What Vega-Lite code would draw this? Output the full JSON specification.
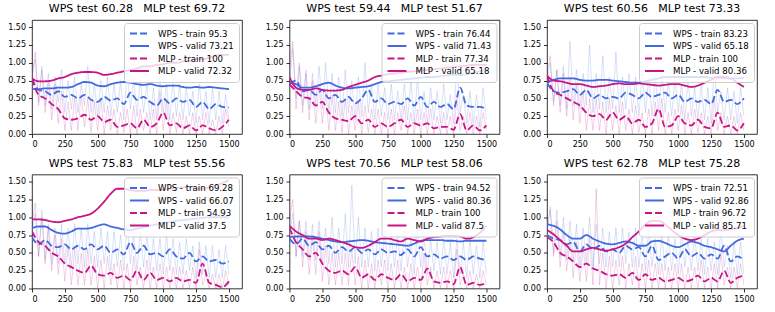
{
"$schema":"https://vega.github.io/schema/vega-lite/v6.json",
"padding":{"left":7,"top":2,"right":5,"bottom":5},
"background":"white",
"config":{
 "font":"DejaVu Sans",
 "view":{"stroke":"black","strokeWidth":0.8},
 "title":{"fontSize":11,"fontWeight":"normal","color":"black","offset":6,"font":"DejaVu Sans"},
 "axis":{"grid":false,"domain":false,"tickColor":"black","tickSize":3.5,"tickWidth":0.8,"labelColor":"black","labelFontSize":8,"labelFont":"DejaVu Sans","labelPadding":3,"labelOverlap":false,"tickCount":20,"title":null},
 "legend":{"orient":"top-right","offset":3,"zindex":1,"fillColor":"rgba(255,255,255,0.8)","strokeColor":"#cccccc","cornerRadius":3,"padding":5,"symbolType":"stroke","symbolSize":360,"symbolStrokeWidth":1.8,"labelFontSize":8.6,"labelFont":"DejaVu Sans","labelColor":"black","labelOffset":8,"rowPadding":1.5,"clipHeight":11,"title":null},
 "concat":{"spacing":{"row":40.5,"column":47.5}}
},
"bounds":"flush",
"columns":3,
"resolve":{"scale":{"color":"independent","strokeDash":"independent"},"legend":{"color":"independent","strokeDash":"independent"}},
"datasets":{"d":[
{"p":1,"x":0,"a":0.78,"b":0.63,"c":0.78,"d":0.78},
{"p":1,"x":50,"a":0.62,"b":0.63,"c":0.55,"d":0.74},
{"p":1,"x":100,"a":0.6,"b":0.64,"c":0.5,"d":0.74},
{"p":1,"x":150,"a":0.55,"b":0.64,"c":0.42,"d":0.75},
{"p":1,"x":200,"a":0.6,"b":0.65,"c":0.35,"d":0.78},
{"p":1,"x":250,"a":0.52,"b":0.65,"c":0.22,"d":0.8},
{"p":1,"x":300,"a":0.55,"b":0.66,"c":0.2,"d":0.84},
{"p":1,"x":350,"a":0.5,"b":0.7,"c":0.22,"d":0.86},
{"p":1,"x":400,"a":0.55,"b":0.73,"c":0.27,"d":0.87},
{"p":1,"x":450,"a":0.48,"b":0.72,"c":0.2,"d":0.87},
{"p":1,"x":500,"a":0.45,"b":0.68,"c":0.25,"d":0.86},
{"p":1,"x":550,"a":0.52,"b":0.67,"c":0.17,"d":0.83},
{"p":1,"x":600,"a":0.47,"b":0.7,"c":0.2,"d":0.84},
{"p":1,"x":650,"a":0.5,"b":0.72,"c":0.1,"d":0.86},
{"p":1,"x":700,"a":0.42,"b":0.73,"c":0.12,"d":0.88},
{"p":1,"x":750,"a":0.58,"b":0.72,"c":0.15,"d":0.9},
{"p":1,"x":800,"a":0.48,"b":0.7,"c":0.08,"d":0.92},
{"p":1,"x":850,"a":0.52,"b":0.69,"c":0.2,"d":0.95},
{"p":1,"x":900,"a":0.45,"b":0.7,"c":0.1,"d":0.95},
{"p":1,"x":950,"a":0.4,"b":0.68,"c":0.15,"d":0.97},
{"p":1,"x":1000,"a":0.5,"b":0.67,"c":0.3,"d":0.98},
{"p":1,"x":1050,"a":0.43,"b":0.68,"c":0.12,"d":1.0},
{"p":1,"x":1100,"a":0.5,"b":0.68,"c":0.15,"d":1.0},
{"p":1,"x":1150,"a":0.45,"b":0.66,"c":0.08,"d":1.02},
{"p":1,"x":1200,"a":0.48,"b":0.65,"c":0.12,"d":1.03},
{"p":1,"x":1250,"a":0.38,"b":0.66,"c":0.05,"d":1.05},
{"p":1,"x":1300,"a":0.45,"b":0.65,"c":0.12,"d":1.05},
{"p":1,"x":1350,"a":0.35,"b":0.66,"c":0.08,"d":1.07},
{"p":1,"x":1400,"a":0.42,"b":0.65,"c":0.05,"d":1.1},
{"p":1,"x":1450,"a":0.38,"b":0.64,"c":0.1,"d":1.11},
{"p":1,"x":1500,"a":0.37,"b":0.63,"c":0.2,"d":1.11},
{"p":2,"x":0,"a":0.7,"b":0.72,"c":0.7,"d":0.8},
{"p":2,"x":50,"a":0.75,"b":0.7,"c":0.6,"d":0.65},
{"p":2,"x":100,"a":0.6,"b":0.65,"c":0.52,"d":0.62},
{"p":2,"x":150,"a":0.62,"b":0.65,"c":0.5,"d":0.62},
{"p":2,"x":200,"a":0.55,"b":0.67,"c":0.4,"d":0.64},
{"p":2,"x":250,"a":0.62,"b":0.7,"c":0.45,"d":0.62},
{"p":2,"x":300,"a":0.5,"b":0.72,"c":0.3,"d":0.61},
{"p":2,"x":350,"a":0.55,"b":0.68,"c":0.22,"d":0.61},
{"p":2,"x":400,"a":0.45,"b":0.65,"c":0.2,"d":0.62},
{"p":2,"x":450,"a":0.52,"b":0.64,"c":0.18,"d":0.66},
{"p":2,"x":500,"a":0.43,"b":0.65,"c":0.25,"d":0.69},
{"p":2,"x":550,"a":0.5,"b":0.66,"c":0.15,"d":0.72},
{"p":2,"x":600,"a":0.62,"b":0.67,"c":0.2,"d":0.75},
{"p":2,"x":650,"a":0.45,"b":0.7,"c":0.1,"d":0.8},
{"p":2,"x":700,"a":0.5,"b":0.73,"c":0.15,"d":0.82},
{"p":2,"x":750,"a":0.42,"b":0.74,"c":0.1,"d":0.84},
{"p":2,"x":800,"a":0.45,"b":0.75,"c":0.15,"d":0.85},
{"p":2,"x":850,"a":0.42,"b":0.76,"c":0.2,"d":0.86},
{"p":2,"x":900,"a":0.5,"b":0.77,"c":0.1,"d":0.87},
{"p":2,"x":950,"a":0.4,"b":0.78,"c":0.15,"d":0.88},
{"p":2,"x":1000,"a":0.52,"b":0.79,"c":0.12,"d":0.89},
{"p":2,"x":1050,"a":0.38,"b":0.8,"c":0.15,"d":0.9},
{"p":2,"x":1100,"a":0.45,"b":0.8,"c":0.08,"d":0.91},
{"p":2,"x":1150,"a":0.38,"b":0.81,"c":0.1,"d":0.92},
{"p":2,"x":1200,"a":0.42,"b":0.82,"c":0.1,"d":0.93},
{"p":2,"x":1250,"a":0.35,"b":0.83,"c":0.06,"d":0.94},
{"p":2,"x":1300,"a":0.65,"b":0.83,"c":0.28,"d":0.95},
{"p":2,"x":1350,"a":0.4,"b":0.84,"c":0.05,"d":0.96},
{"p":2,"x":1400,"a":0.38,"b":0.86,"c":0.12,"d":0.97},
{"p":2,"x":1450,"a":0.38,"b":0.88,"c":0.05,"d":0.97},
{"p":2,"x":1500,"a":0.35,"b":0.91,"c":0.12,"d":0.97},
{"p":3,"x":0,"a":0.72,"b":0.72,"c":0.82,"d":0.82},
{"p":3,"x":50,"a":0.6,"b":0.76,"c":0.6,"d":0.75},
{"p":3,"x":100,"a":0.58,"b":0.78,"c":0.55,"d":0.74},
{"p":3,"x":150,"a":0.6,"b":0.78,"c":0.5,"d":0.72},
{"p":3,"x":200,"a":0.63,"b":0.78,"c":0.45,"d":0.7},
{"p":3,"x":250,"a":0.55,"b":0.76,"c":0.4,"d":0.7},
{"p":3,"x":300,"a":0.62,"b":0.75,"c":0.3,"d":0.68},
{"p":3,"x":350,"a":0.5,"b":0.75,"c":0.25,"d":0.66},
{"p":3,"x":400,"a":0.55,"b":0.76,"c":0.28,"d":0.67},
{"p":3,"x":450,"a":0.5,"b":0.76,"c":0.2,"d":0.68},
{"p":3,"x":500,"a":0.52,"b":0.75,"c":0.3,"d":0.7},
{"p":3,"x":550,"a":0.5,"b":0.74,"c":0.2,"d":0.71},
{"p":3,"x":600,"a":0.58,"b":0.73,"c":0.25,"d":0.7},
{"p":3,"x":650,"a":0.55,"b":0.72,"c":0.15,"d":0.7},
{"p":3,"x":700,"a":0.5,"b":0.72,"c":0.2,"d":0.71},
{"p":3,"x":750,"a":0.58,"b":0.74,"c":0.1,"d":0.7},
{"p":3,"x":800,"a":0.52,"b":0.76,"c":0.15,"d":0.69},
{"p":3,"x":850,"a":0.55,"b":0.78,"c":0.35,"d":0.68},
{"p":3,"x":900,"a":0.58,"b":0.8,"c":0.1,"d":0.69},
{"p":3,"x":950,"a":0.5,"b":0.8,"c":0.12,"d":0.7},
{"p":3,"x":1000,"a":0.55,"b":0.8,"c":0.25,"d":0.7},
{"p":3,"x":1050,"a":0.45,"b":0.8,"c":0.15,"d":0.68},
{"p":3,"x":1100,"a":0.5,"b":0.8,"c":0.12,"d":0.66},
{"p":3,"x":1150,"a":0.45,"b":0.8,"c":0.2,"d":0.68},
{"p":3,"x":1200,"a":0.48,"b":0.8,"c":0.1,"d":0.72},
{"p":3,"x":1250,"a":0.42,"b":0.79,"c":0.08,"d":0.76},
{"p":3,"x":1300,"a":0.62,"b":0.79,"c":0.3,"d":0.8},
{"p":3,"x":1350,"a":0.45,"b":0.78,"c":0.1,"d":0.8},
{"p":3,"x":1400,"a":0.48,"b":0.78,"c":0.12,"d":0.78},
{"p":3,"x":1450,"a":0.42,"b":0.78,"c":0.05,"d":0.72},
{"p":3,"x":1500,"a":0.5,"b":0.79,"c":0.15,"d":0.66},
{"p":4,"x":0,"a":0.72,"b":0.85,"c":0.8,"d":0.97},
{"p":4,"x":50,"a":0.62,"b":0.87,"c":0.65,"d":0.97},
{"p":4,"x":100,"a":0.68,"b":0.87,"c":0.6,"d":0.96},
{"p":4,"x":150,"a":0.6,"b":0.82,"c":0.5,"d":0.94},
{"p":4,"x":200,"a":0.58,"b":0.78,"c":0.45,"d":0.93},
{"p":4,"x":250,"a":0.62,"b":0.77,"c":0.35,"d":0.95},
{"p":4,"x":300,"a":0.55,"b":0.8,"c":0.3,"d":0.97},
{"p":4,"x":350,"a":0.6,"b":0.84,"c":0.25,"d":1.0},
{"p":4,"x":400,"a":0.55,"b":0.84,"c":0.22,"d":1.02},
{"p":4,"x":450,"a":0.62,"b":0.85,"c":0.32,"d":1.05},
{"p":4,"x":500,"a":0.55,"b":0.88,"c":0.2,"d":1.12},
{"p":4,"x":550,"a":0.6,"b":0.9,"c":0.18,"d":1.22},
{"p":4,"x":600,"a":0.5,"b":0.87,"c":0.22,"d":1.33},
{"p":4,"x":650,"a":0.55,"b":0.85,"c":0.15,"d":1.4},
{"p":4,"x":700,"a":0.48,"b":0.83,"c":0.18,"d":1.4},
{"p":4,"x":750,"a":0.65,"b":0.82,"c":0.12,"d":1.38},
{"p":4,"x":800,"a":0.5,"b":0.84,"c":0.25,"d":1.37},
{"p":4,"x":850,"a":0.6,"b":0.86,"c":0.12,"d":1.37},
{"p":4,"x":900,"a":0.48,"b":0.88,"c":0.22,"d":1.38},
{"p":4,"x":950,"a":0.5,"b":0.9,"c":0.12,"d":1.38},
{"p":4,"x":1000,"a":0.45,"b":0.92,"c":0.15,"d":1.39},
{"p":4,"x":1050,"a":0.55,"b":0.93,"c":0.1,"d":1.4},
{"p":4,"x":1100,"a":0.45,"b":0.95,"c":0.15,"d":1.41},
{"p":4,"x":1150,"a":0.42,"b":0.96,"c":0.1,"d":1.42},
{"p":4,"x":1200,"a":0.5,"b":0.97,"c":0.12,"d":1.43},
{"p":4,"x":1250,"a":0.38,"b":0.98,"c":0.08,"d":1.4},
{"p":4,"x":1300,"a":0.45,"b":0.99,"c":0.35,"d":1.4},
{"p":4,"x":1350,"a":0.38,"b":1.0,"c":0.08,"d":1.42},
{"p":4,"x":1400,"a":0.4,"b":1.0,"c":0.05,"d":1.45},
{"p":4,"x":1450,"a":0.35,"b":1.0,"c":0.02,"d":1.48},
{"p":4,"x":1500,"a":0.38,"b":1.0,"c":0.1,"d":1.52},
{"p":5,"x":0,"a":0.7,"b":0.72,"c":0.85,"d":0.88},
{"p":5,"x":50,"a":0.62,"b":0.73,"c":0.65,"d":0.8},
{"p":5,"x":100,"a":0.7,"b":0.73,"c":0.55,"d":0.75},
{"p":5,"x":150,"a":0.6,"b":0.73,"c":0.45,"d":0.7},
{"p":5,"x":200,"a":0.65,"b":0.72,"c":0.5,"d":0.7},
{"p":5,"x":250,"a":0.55,"b":0.7,"c":0.35,"d":0.68},
{"p":5,"x":300,"a":0.6,"b":0.68,"c":0.25,"d":0.7},
{"p":5,"x":350,"a":0.5,"b":0.66,"c":0.22,"d":0.68},
{"p":5,"x":400,"a":0.58,"b":0.65,"c":0.25,"d":0.65},
{"p":5,"x":450,"a":0.52,"b":0.66,"c":0.2,"d":0.62},
{"p":5,"x":500,"a":0.58,"b":0.67,"c":0.3,"d":0.58},
{"p":5,"x":550,"a":0.5,"b":0.68,"c":0.15,"d":0.57},
{"p":5,"x":600,"a":0.55,"b":0.67,"c":0.2,"d":0.6},
{"p":5,"x":650,"a":0.48,"b":0.65,"c":0.12,"d":0.65},
{"p":5,"x":700,"a":0.55,"b":0.64,"c":0.2,"d":0.7},
{"p":5,"x":750,"a":0.5,"b":0.63,"c":0.15,"d":0.7},
{"p":5,"x":800,"a":0.52,"b":0.62,"c":0.12,"d":0.68},
{"p":5,"x":850,"a":0.47,"b":0.61,"c":0.2,"d":0.66},
{"p":5,"x":900,"a":0.55,"b":0.6,"c":0.1,"d":0.7},
{"p":5,"x":950,"a":0.45,"b":0.63,"c":0.15,"d":0.68},
{"p":5,"x":1000,"a":0.58,"b":0.67,"c":0.12,"d":0.66},
{"p":5,"x":1050,"a":0.45,"b":0.68,"c":0.28,"d":0.7},
{"p":5,"x":1100,"a":0.48,"b":0.68,"c":0.1,"d":0.72},
{"p":5,"x":1150,"a":0.42,"b":0.68,"c":0.08,"d":0.73},
{"p":5,"x":1200,"a":0.45,"b":0.67,"c":0.1,"d":0.74},
{"p":5,"x":1250,"a":0.4,"b":0.67,"c":0.06,"d":0.74},
{"p":5,"x":1300,"a":0.45,"b":0.66,"c":0.3,"d":0.73},
{"p":5,"x":1350,"a":0.4,"b":0.67,"c":0.05,"d":0.7},
{"p":5,"x":1400,"a":0.45,"b":0.67,"c":0.08,"d":0.72},
{"p":5,"x":1450,"a":0.42,"b":0.67,"c":0.05,"d":0.78},
{"p":5,"x":1500,"a":0.4,"b":0.67,"c":0.08,"d":0.88},
{"p":6,"x":0,"a":0.75,"b":0.9,"c":0.72,"d":0.82},
{"p":6,"x":50,"a":0.7,"b":0.88,"c":0.65,"d":0.76},
{"p":6,"x":100,"a":0.68,"b":0.83,"c":0.5,"d":0.68},
{"p":6,"x":150,"a":0.62,"b":0.75,"c":0.45,"d":0.6},
{"p":6,"x":200,"a":0.65,"b":0.7,"c":0.38,"d":0.52},
{"p":6,"x":250,"a":0.52,"b":0.7,"c":0.3,"d":0.52},
{"p":6,"x":300,"a":0.62,"b":0.75,"c":0.35,"d":0.55},
{"p":6,"x":350,"a":0.55,"b":0.7,"c":0.28,"d":0.57},
{"p":6,"x":400,"a":0.6,"b":0.66,"c":0.25,"d":0.55},
{"p":6,"x":450,"a":0.52,"b":0.63,"c":0.2,"d":0.53},
{"p":6,"x":500,"a":0.55,"b":0.62,"c":0.18,"d":0.55},
{"p":6,"x":550,"a":0.5,"b":0.64,"c":0.2,"d":0.58},
{"p":6,"x":600,"a":0.6,"b":0.66,"c":0.15,"d":0.63},
{"p":6,"x":650,"a":0.55,"b":0.64,"c":0.22,"d":0.72},
{"p":6,"x":700,"a":0.58,"b":0.6,"c":0.12,"d":0.8},
{"p":6,"x":750,"a":0.45,"b":0.6,"c":0.2,"d":0.9},
{"p":6,"x":800,"a":0.6,"b":0.66,"c":0.12,"d":0.95},
{"p":6,"x":850,"a":0.4,"b":0.67,"c":0.15,"d":0.95},
{"p":6,"x":900,"a":0.45,"b":0.64,"c":0.1,"d":0.9},
{"p":6,"x":950,"a":0.5,"b":0.6,"c":0.12,"d":0.82},
{"p":6,"x":1000,"a":0.42,"b":0.58,"c":0.15,"d":0.75},
{"p":6,"x":1050,"a":0.55,"b":0.62,"c":0.1,"d":0.7},
{"p":6,"x":1100,"a":0.45,"b":0.66,"c":0.12,"d":0.68},
{"p":6,"x":1150,"a":0.5,"b":0.64,"c":0.18,"d":0.7},
{"p":6,"x":1200,"a":0.42,"b":0.6,"c":0.1,"d":0.75},
{"p":6,"x":1250,"a":0.48,"b":0.58,"c":0.15,"d":0.8},
{"p":6,"x":1300,"a":0.42,"b":0.55,"c":0.1,"d":0.82},
{"p":6,"x":1350,"a":0.6,"b":0.52,"c":0.25,"d":0.82},
{"p":6,"x":1400,"a":0.38,"b":0.6,"c":0.08,"d":0.83},
{"p":6,"x":1450,"a":0.45,"b":0.67,"c":0.15,"d":0.85},
{"p":6,"x":1500,"a":0.4,"b":0.7,"c":0.18,"d":0.88}
],
"r":[
{"p":1,"x":0,"e":0.8,"f":0.8},{"p":1,"x":25,"e":1.05,"f":1.15},{"p":1,"x":50,"e":0.45,"f":0.4},{"p":1,"x":75,"e":0.95,"f":0.9},{"p":1,"x":100,"e":0.4,"f":0.3},{"p":1,"x":125,"e":0.85,"f":0.75},{"p":1,"x":150,"e":0.35,"f":0.2},{"p":1,"x":175,"e":0.8,"f":0.7},{"p":1,"x":200,"e":0.45,"f":0.15},{"p":1,"x":225,"e":0.9,"f":0.6},
{"p":1,"x":250,"e":0.3,"f":0.05},{"p":1,"x":275,"e":0.75,"f":0.45},{"p":1,"x":300,"e":0.35,"f":0.05},{"p":1,"x":325,"e":0.8,"f":0.5},{"p":1,"x":350,"e":0.3,"f":0.05},{"p":1,"x":375,"e":0.7,"f":0.55},{"p":1,"x":400,"e":0.4,"f":0.1},{"p":1,"x":425,"e":0.95,"f":0.5},{"p":1,"x":450,"e":0.3,"f":0.02},{"p":1,"x":475,"e":0.7,"f":0.45},
{"p":1,"x":500,"e":0.25,"f":0.05},{"p":1,"x":525,"e":0.75,"f":0.5},{"p":1,"x":550,"e":0.3,"f":0.0},{"p":1,"x":575,"e":0.8,"f":0.4},{"p":1,"x":600,"e":0.25,"f":0.05},{"p":1,"x":625,"e":0.7,"f":0.35},{"p":1,"x":650,"e":0.3,"f":0.0},{"p":1,"x":675,"e":0.75,"f":0.3},{"p":1,"x":700,"e":0.2,"f":0.02},{"p":1,"x":725,"e":0.9,"f":0.35},
{"p":1,"x":750,"e":0.35,"f":0.0},{"p":1,"x":775,"e":0.8,"f":0.4},{"p":1,"x":800,"e":0.25,"f":0.0},{"p":1,"x":825,"e":0.75,"f":0.35},{"p":1,"x":850,"e":0.3,"f":0.05},{"p":1,"x":875,"e":0.7,"f":0.3},{"p":1,"x":900,"e":0.2,"f":0.0},{"p":1,"x":925,"e":0.65,"f":0.35},{"p":1,"x":950,"e":0.2,"f":0.0},{"p":1,"x":975,"e":0.8,"f":0.6},
{"p":1,"x":1000,"e":0.3,"f":0.05},{"p":1,"x":1025,"e":0.7,"f":0.45},{"p":1,"x":1050,"e":0.2,"f":0.0},{"p":1,"x":1075,"e":0.75,"f":0.3},{"p":1,"x":1100,"e":0.25,"f":0.02},{"p":1,"x":1125,"e":0.7,"f":0.3},{"p":1,"x":1150,"e":0.2,"f":0.0},{"p":1,"x":1175,"e":0.65,"f":0.25},{"p":1,"x":1200,"e":0.25,"f":0.0},{"p":1,"x":1225,"e":0.6,"f":0.3},
{"p":1,"x":1250,"e":0.15,"f":0.0},{"p":1,"x":1275,"e":0.7,"f":0.25},{"p":1,"x":1300,"e":0.2,"f":0.0},{"p":1,"x":1325,"e":0.6,"f":0.3},{"p":1,"x":1350,"e":0.15,"f":0.0},{"p":1,"x":1375,"e":0.65,"f":0.2},{"p":1,"x":1400,"e":0.2,"f":0.0},{"p":1,"x":1425,"e":0.6,"f":0.25},{"p":1,"x":1450,"e":0.15,"f":0.0},{"p":1,"x":1475,"e":0.55,"f":0.35},{"p":1,"x":1500,"e":0.2,"f":0.1},
{"p":2,"x":0,"e":0.7,"f":0.9},{"p":2,"x":25,"e":1.2,"f":1.3},{"p":2,"x":50,"e":0.5,"f":0.35},{"p":2,"x":75,"e":1.0,"f":0.95},{"p":2,"x":100,"e":0.4,"f":0.3},{"p":2,"x":125,"e":0.9,"f":0.85},{"p":2,"x":150,"e":0.35,"f":0.2},{"p":2,"x":175,"e":0.85,"f":0.75},{"p":2,"x":200,"e":0.4,"f":0.15},{"p":2,"x":225,"e":0.95,"f":0.7},
{"p":2,"x":250,"e":0.35,"f":0.15},{"p":2,"x":275,"e":1.0,"f":0.6},{"p":2,"x":300,"e":0.3,"f":0.05},{"p":2,"x":325,"e":0.85,"f":0.55},{"p":2,"x":350,"e":0.3,"f":0.05},{"p":2,"x":375,"e":0.8,"f":0.45},{"p":2,"x":400,"e":0.25,"f":0.02},{"p":2,"x":425,"e":0.9,"f":0.5},{"p":2,"x":450,"e":0.3,"f":0.0},{"p":2,"x":475,"e":0.75,"f":0.4},
{"p":2,"x":500,"e":0.2,"f":0.05},{"p":2,"x":525,"e":0.8,"f":0.45},{"p":2,"x":550,"e":0.25,"f":0.0},{"p":2,"x":575,"e":1.0,"f":0.4},{"p":2,"x":600,"e":0.3,"f":0.02},{"p":2,"x":625,"e":0.7,"f":0.35},{"p":2,"x":650,"e":0.2,"f":0.0},{"p":2,"x":675,"e":0.7,"f":0.35},{"p":2,"x":700,"e":0.25,"f":0.0},{"p":2,"x":725,"e":0.65,"f":0.3},
{"p":2,"x":750,"e":0.2,"f":0.0},{"p":2,"x":775,"e":0.7,"f":0.35},{"p":2,"x":800,"e":0.2,"f":0.0},{"p":2,"x":825,"e":0.6,"f":0.3},{"p":2,"x":850,"e":0.2,"f":0.05},{"p":2,"x":875,"e":0.7,"f":0.4},{"p":2,"x":900,"e":0.2,"f":0.0},{"p":2,"x":925,"e":0.75,"f":0.3},{"p":2,"x":950,"e":0.15,"f":0.0},{"p":2,"x":975,"e":0.8,"f":0.35},
{"p":2,"x":1000,"e":0.2,"f":0.0},{"p":2,"x":1025,"e":0.6,"f":0.3},{"p":2,"x":1050,"e":0.15,"f":0.0},{"p":2,"x":1075,"e":0.65,"f":0.35},{"p":2,"x":1100,"e":0.2,"f":0.0},{"p":2,"x":1125,"e":0.6,"f":0.25},{"p":2,"x":1150,"e":0.15,"f":0.0},{"p":2,"x":1175,"e":0.7,"f":0.3},{"p":2,"x":1200,"e":0.2,"f":0.0},{"p":2,"x":1225,"e":0.55,"f":0.25},
{"p":2,"x":1250,"e":0.15,"f":0.0},{"p":2,"x":1275,"e":1.0,"f":0.5},{"p":2,"x":1300,"e":0.3,"f":0.05},{"p":2,"x":1325,"e":0.55,"f":0.25},{"p":2,"x":1350,"e":0.15,"f":0.0},{"p":2,"x":1375,"e":0.6,"f":0.3},{"p":2,"x":1400,"e":0.15,"f":0.0},{"p":2,"x":1425,"e":0.55,"f":0.25},{"p":2,"x":1450,"e":0.1,"f":0.0},{"p":2,"x":1475,"e":0.65,"f":0.3},{"p":2,"x":1500,"e":0.2,"f":0.05},
{"p":3,"x":0,"e":0.75,"f":0.85},{"p":3,"x":25,"e":1.0,"f":1.1},{"p":3,"x":50,"e":0.45,"f":0.4},{"p":3,"x":75,"e":0.9,"f":0.9},{"p":3,"x":100,"e":0.4,"f":0.3},{"p":3,"x":125,"e":0.95,"f":0.85},{"p":3,"x":150,"e":0.35,"f":0.25},{"p":3,"x":175,"e":1.3,"f":0.8},{"p":3,"x":200,"e":0.4,"f":0.2},{"p":3,"x":225,"e":0.9,"f":0.7},
{"p":3,"x":250,"e":0.35,"f":0.15},{"p":3,"x":275,"e":0.85,"f":0.6},{"p":3,"x":300,"e":0.4,"f":0.05},{"p":3,"x":325,"e":1.25,"f":0.5},{"p":3,"x":350,"e":0.3,"f":0.05},{"p":3,"x":375,"e":0.85,"f":0.5},{"p":3,"x":400,"e":0.35,"f":0.05},{"p":3,"x":425,"e":1.1,"f":0.45},{"p":3,"x":450,"e":0.3,"f":0.0},{"p":3,"x":475,"e":0.8,"f":0.5},
{"p":3,"x":500,"e":0.35,"f":0.05},{"p":3,"x":525,"e":1.15,"f":0.4},{"p":3,"x":550,"e":0.3,"f":0.0},{"p":3,"x":575,"e":0.8,"f":0.45},{"p":3,"x":600,"e":0.35,"f":0.05},{"p":3,"x":625,"e":0.85,"f":0.35},{"p":3,"x":650,"e":0.3,"f":0.0},{"p":3,"x":675,"e":0.8,"f":0.4},{"p":3,"x":700,"e":0.25,"f":0.02},{"p":3,"x":725,"e":0.85,"f":0.3},
{"p":3,"x":750,"e":0.3,"f":0.0},{"p":3,"x":775,"e":0.8,"f":0.35},{"p":3,"x":800,"e":0.25,"f":0.0},{"p":3,"x":825,"e":0.8,"f":0.45},{"p":3,"x":850,"e":0.3,"f":0.05},{"p":3,"x":875,"e":0.85,"f":0.5},{"p":3,"x":900,"e":0.3,"f":0.0},{"p":3,"x":925,"e":0.75,"f":0.3},{"p":3,"x":950,"e":0.25,"f":0.0},{"p":3,"x":975,"e":0.8,"f":0.35},
{"p":3,"x":1000,"e":0.3,"f":0.05},{"p":3,"x":1025,"e":0.7,"f":0.4},{"p":3,"x":1050,"e":0.2,"f":0.0},{"p":3,"x":1075,"e":0.75,"f":0.3},{"p":3,"x":1100,"e":0.25,"f":0.0},{"p":3,"x":1125,"e":0.65,"f":0.35},{"p":3,"x":1150,"e":0.2,"f":0.02},{"p":3,"x":1175,"e":0.7,"f":0.3},{"p":3,"x":1200,"e":0.2,"f":0.0},{"p":3,"x":1225,"e":0.65,"f":0.25},
{"p":3,"x":1250,"e":0.15,"f":0.0},{"p":3,"x":1275,"e":0.95,"f":0.5},{"p":3,"x":1300,"e":0.3,"f":0.05},{"p":3,"x":1325,"e":0.6,"f":0.3},{"p":3,"x":1350,"e":0.2,"f":0.0},{"p":3,"x":1375,"e":0.65,"f":0.25},{"p":3,"x":1400,"e":0.2,"f":0.0},{"p":3,"x":1425,"e":0.6,"f":0.25},{"p":3,"x":1450,"e":0.15,"f":0.0},{"p":3,"x":1475,"e":0.65,"f":0.3},{"p":3,"x":1500,"e":0.25,"f":0.05},
{"p":4,"x":0,"e":0.8,"f":0.9},{"p":4,"x":25,"e":1.05,"f":1.2},{"p":4,"x":50,"e":0.45,"f":0.45},{"p":4,"x":75,"e":1.1,"f":1.0},{"p":4,"x":100,"e":0.4,"f":0.35},{"p":4,"x":125,"e":0.9,"f":0.85},{"p":4,"x":150,"e":0.35,"f":0.25},{"p":4,"x":175,"e":0.85,"f":0.75},{"p":4,"x":200,"e":0.35,"f":0.2},{"p":4,"x":225,"e":0.9,"f":0.7},
{"p":4,"x":250,"e":0.35,"f":0.1},{"p":4,"x":275,"e":0.85,"f":0.6},{"p":4,"x":300,"e":0.3,"f":0.05},{"p":4,"x":325,"e":0.9,"f":0.55},{"p":4,"x":350,"e":0.35,"f":0.05},{"p":4,"x":375,"e":0.85,"f":0.5},{"p":4,"x":400,"e":0.3,"f":0.05},{"p":4,"x":425,"e":0.9,"f":0.55},{"p":4,"x":450,"e":0.35,"f":0.05},{"p":4,"x":475,"e":0.8,"f":0.45},
{"p":4,"x":500,"e":0.3,"f":0.0},{"p":4,"x":525,"e":0.85,"f":0.4},{"p":4,"x":550,"e":0.35,"f":0.0},{"p":4,"x":575,"e":0.8,"f":0.45},{"p":4,"x":600,"e":0.25,"f":0.05},{"p":4,"x":625,"e":0.8,"f":0.35},{"p":4,"x":650,"e":0.3,"f":0.0},{"p":4,"x":675,"e":0.75,"f":0.4},{"p":4,"x":700,"e":0.25,"f":0.0},{"p":4,"x":725,"e":0.9,"f":0.35},
{"p":4,"x":750,"e":0.35,"f":0.0},{"p":4,"x":775,"e":0.75,"f":0.45},{"p":4,"x":800,"e":0.25,"f":0.05},{"p":4,"x":825,"e":0.8,"f":0.3},{"p":4,"x":850,"e":0.3,"f":0.0},{"p":4,"x":875,"e":0.75,"f":0.4},{"p":4,"x":900,"e":0.25,"f":0.0},{"p":4,"x":925,"e":0.7,"f":0.3},{"p":4,"x":950,"e":0.25,"f":0.0},{"p":4,"x":975,"e":0.7,"f":0.35},
{"p":4,"x":1000,"e":0.2,"f":0.0},{"p":4,"x":1025,"e":0.75,"f":0.3},{"p":4,"x":1050,"e":0.25,"f":0.0},{"p":4,"x":1075,"e":0.7,"f":0.3},{"p":4,"x":1100,"e":0.2,"f":0.0},{"p":4,"x":1125,"e":0.65,"f":0.3},{"p":4,"x":1150,"e":0.2,"f":0.0},{"p":4,"x":1175,"e":0.7,"f":0.25},{"p":4,"x":1200,"e":0.25,"f":0.0},{"p":4,"x":1225,"e":0.6,"f":0.3},
{"p":4,"x":1250,"e":0.15,"f":0.0},{"p":4,"x":1275,"e":0.65,"f":0.55},{"p":4,"x":1300,"e":0.2,"f":0.05},{"p":4,"x":1325,"e":0.6,"f":0.2},{"p":4,"x":1350,"e":0.15,"f":0.0},{"p":4,"x":1375,"e":0.6,"f":0.2},{"p":4,"x":1400,"e":0.15,"f":0.0},{"p":4,"x":1425,"e":0.55,"f":0.2},{"p":4,"x":1450,"e":0.15,"f":0.0},{"p":4,"x":1475,"e":0.6,"f":0.25},{"p":4,"x":1500,"e":0.2,"f":0.05},
{"p":5,"x":0,"e":0.75,"f":0.95},{"p":5,"x":25,"e":1.05,"f":1.25},{"p":5,"x":50,"e":0.45,"f":0.45},{"p":5,"x":75,"e":0.95,"f":0.95},{"p":5,"x":100,"e":0.45,"f":0.3},{"p":5,"x":125,"e":0.95,"f":0.8},{"p":5,"x":150,"e":0.4,"f":0.2},{"p":5,"x":175,"e":0.9,"f":0.75},{"p":5,"x":200,"e":0.4,"f":0.2},{"p":5,"x":225,"e":0.95,"f":0.8},
{"p":5,"x":250,"e":0.35,"f":0.1},{"p":5,"x":275,"e":0.85,"f":0.6},{"p":5,"x":300,"e":0.35,"f":0.05},{"p":5,"x":325,"e":1.0,"f":0.5},{"p":5,"x":350,"e":0.3,"f":0.05},{"p":5,"x":375,"e":0.85,"f":0.5},{"p":5,"x":400,"e":0.35,"f":0.05},{"p":5,"x":425,"e":1.05,"f":0.5},{"p":5,"x":450,"e":0.3,"f":0.05},{"p":5,"x":475,"e":1.45,"f":0.55},
{"p":5,"x":500,"e":0.35,"f":0.05},{"p":5,"x":525,"e":1.0,"f":0.45},{"p":5,"x":550,"e":0.3,"f":0.0},{"p":5,"x":575,"e":0.85,"f":0.4},{"p":5,"x":600,"e":0.3,"f":0.0},{"p":5,"x":625,"e":0.8,"f":0.35},{"p":5,"x":650,"e":0.25,"f":0.0},{"p":5,"x":675,"e":0.85,"f":0.4},{"p":5,"x":700,"e":0.3,"f":0.05},{"p":5,"x":725,"e":0.8,"f":0.4},
{"p":5,"x":750,"e":0.25,"f":0.0},{"p":5,"x":775,"e":0.8,"f":0.35},{"p":5,"x":800,"e":0.3,"f":0.0},{"p":5,"x":825,"e":0.75,"f":0.4},{"p":5,"x":850,"e":0.25,"f":0.0},{"p":5,"x":875,"e":0.8,"f":0.3},{"p":5,"x":900,"e":0.3,"f":0.0},{"p":5,"x":925,"e":0.7,"f":0.35},{"p":5,"x":950,"e":0.2,"f":0.0},{"p":5,"x":975,"e":0.85,"f":0.3},
{"p":5,"x":1000,"e":0.3,"f":0.0},{"p":5,"x":1025,"e":0.75,"f":0.5},{"p":5,"x":1050,"e":0.2,"f":0.05},{"p":5,"x":1075,"e":0.7,"f":0.3},{"p":5,"x":1100,"e":0.25,"f":0.0},{"p":5,"x":1125,"e":0.65,"f":0.25},{"p":5,"x":1150,"e":0.2,"f":0.0},{"p":5,"x":1175,"e":0.7,"f":0.3},{"p":5,"x":1200,"e":0.2,"f":0.0},{"p":5,"x":1225,"e":0.65,"f":0.25},
{"p":5,"x":1250,"e":0.15,"f":0.0},{"p":5,"x":1275,"e":0.7,"f":0.55},{"p":5,"x":1300,"e":0.2,"f":0.05},{"p":5,"x":1325,"e":0.65,"f":0.2},{"p":5,"x":1350,"e":0.15,"f":0.0},{"p":5,"x":1375,"e":0.7,"f":0.25},{"p":5,"x":1400,"e":0.2,"f":0.0},{"p":5,"x":1425,"e":0.6,"f":0.2},{"p":5,"x":1450,"e":0.15,"f":0.0},{"p":5,"x":1475,"e":0.65,"f":0.25},{"p":5,"x":1500,"e":0.2,"f":0.05},
{"p":6,"x":0,"e":0.8,"f":0.85},{"p":6,"x":25,"e":1.15,"f":1.1},{"p":6,"x":50,"e":0.5,"f":0.45},{"p":6,"x":75,"e":1.1,"f":0.95},{"p":6,"x":100,"e":0.45,"f":0.3},{"p":6,"x":125,"e":1.0,"f":0.8},{"p":6,"x":150,"e":0.4,"f":0.25},{"p":6,"x":175,"e":0.95,"f":0.7},{"p":6,"x":200,"e":0.4,"f":0.15},{"p":6,"x":225,"e":0.9,"f":0.65},
{"p":6,"x":250,"e":0.3,"f":0.1},{"p":6,"x":275,"e":0.85,"f":0.6},{"p":6,"x":300,"e":0.35,"f":0.1},{"p":6,"x":325,"e":1.0,"f":0.7},{"p":6,"x":350,"e":0.3,"f":0.05},{"p":6,"x":375,"e":0.9,"f":1.4},{"p":6,"x":400,"e":0.35,"f":0.05},{"p":6,"x":425,"e":0.85,"f":0.5},{"p":6,"x":450,"e":0.3,"f":0.0},{"p":6,"x":475,"e":0.8,"f":0.45},
{"p":6,"x":500,"e":0.3,"f":0.0},{"p":6,"x":525,"e":0.85,"f":0.4},{"p":6,"x":550,"e":0.3,"f":0.05},{"p":6,"x":575,"e":0.85,"f":0.45},{"p":6,"x":600,"e":0.35,"f":0.0},{"p":6,"x":625,"e":0.8,"f":0.35},{"p":6,"x":650,"e":0.3,"f":0.05},{"p":6,"x":675,"e":0.85,"f":0.45},{"p":6,"x":700,"e":0.3,"f":0.0},{"p":6,"x":725,"e":0.75,"f":0.35},
{"p":6,"x":750,"e":0.25,"f":0.0},{"p":6,"x":775,"e":0.85,"f":0.4},{"p":6,"x":800,"e":0.3,"f":0.0},{"p":6,"x":825,"e":0.7,"f":0.35},{"p":6,"x":850,"e":0.2,"f":0.0},{"p":6,"x":875,"e":0.75,"f":0.35},{"p":6,"x":900,"e":0.25,"f":0.0},{"p":6,"x":925,"e":0.75,"f":0.3},{"p":6,"x":950,"e":0.25,"f":0.0},{"p":6,"x":975,"e":0.7,"f":0.35},
{"p":6,"x":1000,"e":0.2,"f":0.0},{"p":6,"x":1025,"e":0.8,"f":0.35},{"p":6,"x":1050,"e":0.3,"f":0.0},{"p":6,"x":1075,"e":0.7,"f":0.3},{"p":6,"x":1100,"e":0.25,"f":0.0},{"p":6,"x":1125,"e":0.75,"f":0.3},{"p":6,"x":1150,"e":0.25,"f":0.0},{"p":6,"x":1175,"e":0.7,"f":0.4},{"p":6,"x":1200,"e":0.2,"f":0.0},{"p":6,"x":1225,"e":0.7,"f":0.3},
{"p":6,"x":1250,"e":0.25,"f":0.0},{"p":6,"x":1275,"e":0.65,"f":0.35},{"p":6,"x":1300,"e":0.2,"f":0.0},{"p":6,"x":1325,"e":0.85,"f":0.5},{"p":6,"x":1350,"e":0.3,"f":0.05},{"p":6,"x":1375,"e":0.6,"f":0.3},{"p":6,"x":1400,"e":0.15,"f":0.0},{"p":6,"x":1425,"e":0.65,"f":0.3},{"p":6,"x":1450,"e":0.2,"f":0.0},{"p":6,"x":1475,"e":0.65,"f":0.35},{"p":6,"x":1500,"e":0.2,"f":0.05}
]},
"concat":[
{"title":"WPS test 60.28\u00a0\u00a0\u00a0MLP test 69.72","width":210,"height":114,"layer":[
 {"data":{"name":"r"},"transform":[{"filter":"datum.p==1"}],"mark":{"type":"line","clip":true,"strokeWidth":1,"color":"#4169e1","opacity":0.2},"encoding":{"x":{"field":"x","type":"quantitative","scale":{"domain":[0,1500]},"axis":{"values":[0,250,500,750,1000,1250,1500],"tickCount":20,"format":"d"}},"y":{"field":"e","type":"quantitative","scale":{"domain":[0,1.5]},"axis":{"values":[0,0.25,0.5,0.75,1,1.25,1.5],"tickCount":20,"format":".2f"}}}},
 {"data":{"name":"r"},"transform":[{"filter":"datum.p==1"}],"mark":{"type":"line","clip":true,"strokeWidth":1,"color":"#c71585","opacity":0.2},"encoding":{"x":{"field":"x","type":"quantitative"},"y":{"field":"f","type":"quantitative"}}},
 {"data":{"name":"d"},"transform":[{"filter":"datum.p==1"},{"fold":["a","b","c","d"],"as":["s","y"]}],
 "mark":{"type":"line","clip":true,"strokeWidth":1.8,"interpolate":"monotone"},
 "encoding":{"x":{"field":"x","type":"quantitative"},"y":{"field":"y","type":"quantitative"},
  "color":{"field":"s","type":"nominal","scale":{"domain":["a","b","c","d"],"range":["#4169e1","#4169e1","#c71585","#c71585"]},"legend":{"title":null,"labelExpr":"datum.label=='a'?'WPS - train 95.3':datum.label=='b'?'WPS - valid 73.21':datum.label=='c'?'MLP - train 100':'MLP - valid 72.32'"}},
  "strokeDash":{"field":"s","type":"nominal","scale":{"domain":["a","b","c","d"],"range":[[7,3],[1,0],[7,3],[1,0]]},"legend":{"title":null,"labelExpr":"datum.label=='a'?'WPS - train 95.3':datum.label=='b'?'WPS - valid 73.21':datum.label=='c'?'MLP - train 100':'MLP - valid 72.32'"}}}}]},
{"title":"WPS test 59.44\u00a0\u00a0\u00a0MLP test 51.67","width":210,"height":114,"layer":[
 {"data":{"name":"r"},"transform":[{"filter":"datum.p==2"}],"mark":{"type":"line","clip":true,"strokeWidth":1,"color":"#4169e1","opacity":0.2},"encoding":{"x":{"field":"x","type":"quantitative","scale":{"domain":[0,1500]},"axis":{"values":[0,250,500,750,1000,1250,1500],"tickCount":20,"format":"d"}},"y":{"field":"e","type":"quantitative","scale":{"domain":[0,1.5]},"axis":{"values":[0,0.25,0.5,0.75,1,1.25,1.5],"tickCount":20,"format":".2f"}}}},
 {"data":{"name":"r"},"transform":[{"filter":"datum.p==2"}],"mark":{"type":"line","clip":true,"strokeWidth":1,"color":"#c71585","opacity":0.2},"encoding":{"x":{"field":"x","type":"quantitative"},"y":{"field":"f","type":"quantitative"}}},
 {"data":{"name":"d"},"transform":[{"filter":"datum.p==2"},{"fold":["a","b","c","d"],"as":["s","y"]}],
 "mark":{"type":"line","clip":true,"strokeWidth":1.8,"interpolate":"monotone"},
 "encoding":{"x":{"field":"x","type":"quantitative"},"y":{"field":"y","type":"quantitative"},
  "color":{"field":"s","type":"nominal","scale":{"domain":["a","b","c","d"],"range":["#4169e1","#4169e1","#c71585","#c71585"]},"legend":{"title":null,"labelExpr":"datum.label=='a'?'WPS - train 76.44':datum.label=='b'?'WPS - valid 71.43':datum.label=='c'?'MLP - train 77.34':'MLP - valid 65.18'"}},
  "strokeDash":{"field":"s","type":"nominal","scale":{"domain":["a","b","c","d"],"range":[[7,3],[1,0],[7,3],[1,0]]},"legend":{"title":null,"labelExpr":"datum.label=='a'?'WPS - train 76.44':datum.label=='b'?'WPS - valid 71.43':datum.label=='c'?'MLP - train 77.34':'MLP - valid 65.18'"}}}}]},
{"title":"WPS test 60.56\u00a0\u00a0\u00a0MLP test 73.33","width":210,"height":114,"layer":[
 {"data":{"name":"r"},"transform":[{"filter":"datum.p==3"}],"mark":{"type":"line","clip":true,"strokeWidth":1,"color":"#4169e1","opacity":0.2},"encoding":{"x":{"field":"x","type":"quantitative","scale":{"domain":[0,1500]},"axis":{"values":[0,250,500,750,1000,1250,1500],"tickCount":20,"format":"d"}},"y":{"field":"e","type":"quantitative","scale":{"domain":[0,1.5]},"axis":{"values":[0,0.25,0.5,0.75,1,1.25,1.5],"tickCount":20,"format":".2f"}}}},
 {"data":{"name":"r"},"transform":[{"filter":"datum.p==3"}],"mark":{"type":"line","clip":true,"strokeWidth":1,"color":"#c71585","opacity":0.2},"encoding":{"x":{"field":"x","type":"quantitative"},"y":{"field":"f","type":"quantitative"}}},
 {"data":{"name":"d"},"transform":[{"filter":"datum.p==3"},{"fold":["a","b","c","d"],"as":["s","y"]}],
 "mark":{"type":"line","clip":true,"strokeWidth":1.8,"interpolate":"monotone"},
 "encoding":{"x":{"field":"x","type":"quantitative"},"y":{"field":"y","type":"quantitative"},
  "color":{"field":"s","type":"nominal","scale":{"domain":["a","b","c","d"],"range":["#4169e1","#4169e1","#c71585","#c71585"]},"legend":{"title":null,"labelExpr":"datum.label=='a'?'WPS - train 83.23':datum.label=='b'?'WPS - valid 65.18':datum.label=='c'?'MLP - train 100':'MLP - valid 80.36'"}},
  "strokeDash":{"field":"s","type":"nominal","scale":{"domain":["a","b","c","d"],"range":[[7,3],[1,0],[7,3],[1,0]]},"legend":{"title":null,"labelExpr":"datum.label=='a'?'WPS - train 83.23':datum.label=='b'?'WPS - valid 65.18':datum.label=='c'?'MLP - train 100':'MLP - valid 80.36'"}}}}]},
{"title":"WPS test 75.83\u00a0\u00a0\u00a0MLP test 55.56","width":210,"height":114,"layer":[
 {"data":{"name":"r"},"transform":[{"filter":"datum.p==4"}],"mark":{"type":"line","clip":true,"strokeWidth":1,"color":"#4169e1","opacity":0.2},"encoding":{"x":{"field":"x","type":"quantitative","scale":{"domain":[0,1500]},"axis":{"values":[0,250,500,750,1000,1250,1500],"tickCount":20,"format":"d"}},"y":{"field":"e","type":"quantitative","scale":{"domain":[0,1.5]},"axis":{"values":[0,0.25,0.5,0.75,1,1.25,1.5],"tickCount":20,"format":".2f"}}}},
 {"data":{"name":"r"},"transform":[{"filter":"datum.p==4"}],"mark":{"type":"line","clip":true,"strokeWidth":1,"color":"#c71585","opacity":0.2},"encoding":{"x":{"field":"x","type":"quantitative"},"y":{"field":"f","type":"quantitative"}}},
 {"data":{"name":"d"},"transform":[{"filter":"datum.p==4"},{"fold":["a","b","c","d"],"as":["s","y"]}],
 "mark":{"type":"line","clip":true,"strokeWidth":1.8,"interpolate":"monotone"},
 "encoding":{"x":{"field":"x","type":"quantitative"},"y":{"field":"y","type":"quantitative"},
  "color":{"field":"s","type":"nominal","scale":{"domain":["a","b","c","d"],"range":["#4169e1","#4169e1","#c71585","#c71585"]},"legend":{"title":null,"labelExpr":"datum.label=='a'?'WPS - train 69.28':datum.label=='b'?'WPS - valid 66.07':datum.label=='c'?'MLP - train 54.93':'MLP - valid 37.5'"}},
  "strokeDash":{"field":"s","type":"nominal","scale":{"domain":["a","b","c","d"],"range":[[7,3],[1,0],[7,3],[1,0]]},"legend":{"title":null,"labelExpr":"datum.label=='a'?'WPS - train 69.28':datum.label=='b'?'WPS - valid 66.07':datum.label=='c'?'MLP - train 54.93':'MLP - valid 37.5'"}}}}]},
{"title":"WPS test 70.56\u00a0\u00a0\u00a0MLP test 58.06","width":210,"height":114,"layer":[
 {"data":{"name":"r"},"transform":[{"filter":"datum.p==5"}],"mark":{"type":"line","clip":true,"strokeWidth":1,"color":"#4169e1","opacity":0.2},"encoding":{"x":{"field":"x","type":"quantitative","scale":{"domain":[0,1500]},"axis":{"values":[0,250,500,750,1000,1250,1500],"tickCount":20,"format":"d"}},"y":{"field":"e","type":"quantitative","scale":{"domain":[0,1.5]},"axis":{"values":[0,0.25,0.5,0.75,1,1.25,1.5],"tickCount":20,"format":".2f"}}}},
 {"data":{"name":"r"},"transform":[{"filter":"datum.p==5"}],"mark":{"type":"line","clip":true,"strokeWidth":1,"color":"#c71585","opacity":0.2},"encoding":{"x":{"field":"x","type":"quantitative"},"y":{"field":"f","type":"quantitative"}}},
 {"data":{"name":"d"},"transform":[{"filter":"datum.p==5"},{"fold":["a","b","c","d"],"as":["s","y"]}],
 "mark":{"type":"line","clip":true,"strokeWidth":1.8,"interpolate":"monotone"},
 "encoding":{"x":{"field":"x","type":"quantitative"},"y":{"field":"y","type":"quantitative"},
  "color":{"field":"s","type":"nominal","scale":{"domain":["a","b","c","d"],"range":["#4169e1","#4169e1","#c71585","#c71585"]},"legend":{"title":null,"labelExpr":"datum.label=='a'?'WPS - train 94.52':datum.label=='b'?'WPS - valid 80.36':datum.label=='c'?'MLP - train 100':'MLP - valid 87.5'"}},
  "strokeDash":{"field":"s","type":"nominal","scale":{"domain":["a","b","c","d"],"range":[[7,3],[1,0],[7,3],[1,0]]},"legend":{"title":null,"labelExpr":"datum.label=='a'?'WPS - train 94.52':datum.label=='b'?'WPS - valid 80.36':datum.label=='c'?'MLP - train 100':'MLP - valid 87.5'"}}}}]},
{"title":"WPS test 62.78\u00a0\u00a0\u00a0MLP test 75.28","width":210,"height":114,"layer":[
 {"data":{"name":"r"},"transform":[{"filter":"datum.p==6"}],"mark":{"type":"line","clip":true,"strokeWidth":1,"color":"#4169e1","opacity":0.2},"encoding":{"x":{"field":"x","type":"quantitative","scale":{"domain":[0,1500]},"axis":{"values":[0,250,500,750,1000,1250,1500],"tickCount":20,"format":"d"}},"y":{"field":"e","type":"quantitative","scale":{"domain":[0,1.5]},"axis":{"values":[0,0.25,0.5,0.75,1,1.25,1.5],"tickCount":20,"format":".2f"}}}},
 {"data":{"name":"r"},"transform":[{"filter":"datum.p==6"}],"mark":{"type":"line","clip":true,"strokeWidth":1,"color":"#c71585","opacity":0.2},"encoding":{"x":{"field":"x","type":"quantitative"},"y":{"field":"f","type":"quantitative"}}},
 {"data":{"name":"d"},"transform":[{"filter":"datum.p==6"},{"fold":["a","b","c","d"],"as":["s","y"]}],
 "mark":{"type":"line","clip":true,"strokeWidth":1.8,"interpolate":"monotone"},
 "encoding":{"x":{"field":"x","type":"quantitative"},"y":{"field":"y","type":"quantitative"},
  "color":{"field":"s","type":"nominal","scale":{"domain":["a","b","c","d"],"range":["#4169e1","#4169e1","#c71585","#c71585"]},"legend":{"title":null,"labelExpr":"datum.label=='a'?'WPS - train 72.51':datum.label=='b'?'WPS - valid 92.86':datum.label=='c'?'MLP - train 96.72':'MLP - valid 85.71'"}},
  "strokeDash":{"field":"s","type":"nominal","scale":{"domain":["a","b","c","d"],"range":[[7,3],[1,0],[7,3],[1,0]]},"legend":{"title":null,"labelExpr":"datum.label=='a'?'WPS - train 72.51':datum.label=='b'?'WPS - valid 92.86':datum.label=='c'?'MLP - train 96.72':'MLP - valid 85.71'"}}}}]}
]
}
